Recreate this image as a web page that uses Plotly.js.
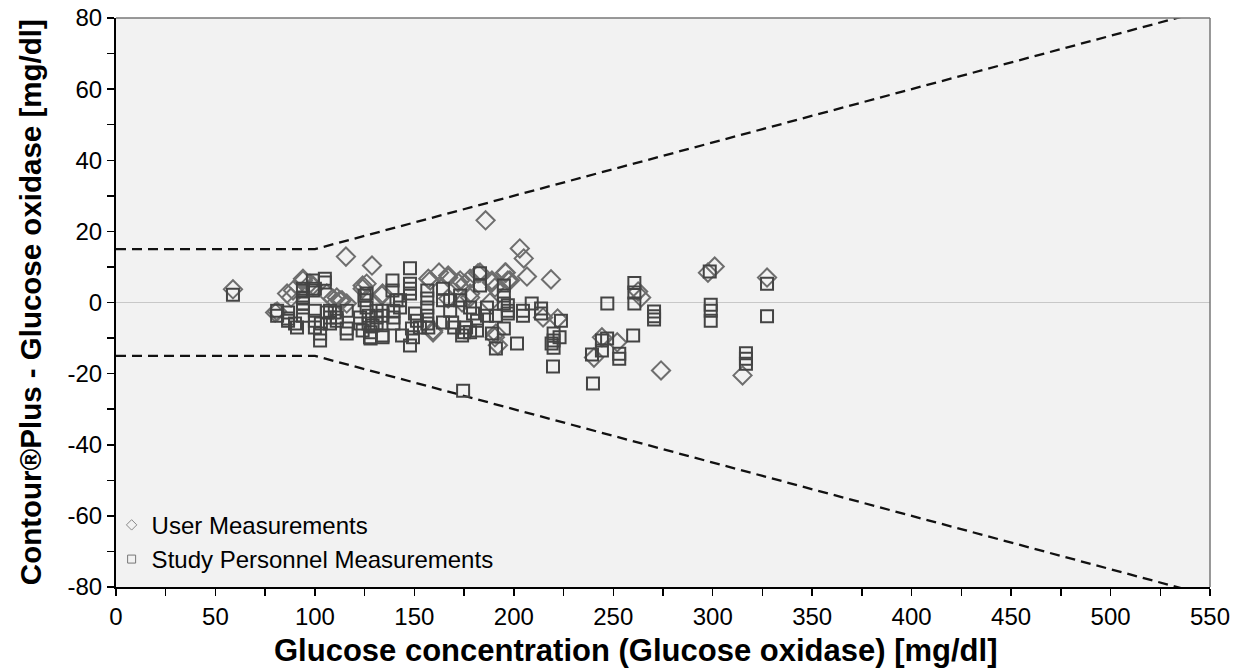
<!DOCTYPE html>
<html>
<head>
<meta charset="utf-8">
<script src="https://cdn.plot.ly/plotly-3.0.1.min.js"></script>
<style>html,body{margin:0;padding:0;background:#fff;}#chart{width:1240px;height:669px;}</style>
</head>
<body>
<div id="chart"></div>
<script>
// User Measurements (diamonds)
const userX = [58.8,80,81,86,88,89,94,94,97.5,99,106,109,111,112.6,113.6,116,115.6,128.7,124,124,126,133.7,134,
  157,158,159.4,159.4,162.4,167,167,167,172,173,175.5,174,178,178,178,182,183,188,189,189,190.5,190.5,191,192,195.6,196,197,198,
  185.8,203,205,206.6,218.7,214.7,222,240.3,244.3,252,262.5,264,274,297.6,301,315,327.3];
const userY = [3.7,-2.8,-2.5,2.5,1.4,3.4,6.7,6.2,5.3,4.8,2.5,1.1,1.4,0.6,0.6,-0.3,12.9,10.4,4.8,3.9,5.3,2,2.5,
  6.7,6.2,-8.4,-7.9,8.4,7.0,7.6,1.1,5.6,6.2,5.3,0,6.7,1.4,2.5,8.2,8.4,0,6.2,5.6,4.2,-9.8,-8.7,-12,8.4,8.4,6.2,6.2,
  23.1,15.2,12.4,7.3,6.5,-4.2,-4.5,-15.5,-9.8,-11.2,3.1,1.4,-19.1,8.4,10.1,-20.5,7.0];

// Study Personnel Measurements (squares)
const staffX = [58.8,
  81,81,86.5,86.5,86.5,90,91,94,94,94,94,94,94,94,
  99,99,100,100,100,100,102.6,102.6,103,105,105,106,107.6,107.6,107.6,110,111,111,116,116,116,
  122.7,122.7,124,125,125,126,126,127,127,127.7,128,128,129,131,131,131,134,134,134,134,
  139,139,139.5,139.5,139.5,141,142.8,142.8,143.8,147.8,147.8,147.8,147.8,147.8,148.8,149.3,150.3,151.3,152.8,
  156.5,156.5,156.5,156.5,156.5,157,164.4,164.4,164.4,168,168,169,170,173,173,174,175,178,176,174.5,
  183,183,178,179.5,181.5,181.5,186.5,186.5,189,191,191,195,195,195,197,195,197,197,201.6,
  204.6,204.6,209,213.7,213.7,223.7,220,220,219,223,220,219.7,
  239.3,244.3,244.3,246.9,239.8,247,
  260.6,260.6,260.6,270.5,270.5,270.5,260,253,253,
  298.5,299,299,299,327.3,327.3,316.7,316.7,316.7];
const staffY = [2.2,
  -2.3,-3.7,-2.8,-4.5,-5.1,-5.9,-7,3.9,3.4,1.4,1.1,-0.3,-1.4,-3.7,
  6.2,3.4,3.9,-2.3,-5.1,-7,-10.7,-8.7,-5.9,6.7,5.6,-2.8,-2.3,-4.2,-5.9,-2.8,-4.2,-5.1,-2.3,-7.3,-8.7,
  -4.2,-5.9,-7.9,2,0.6,2.5,-1.4,-3.7,-5.9,-9.8,-8.4,-10.1,-6.5,-2.3,-4.2,-5.9,-9.3,-2.3,-3.7,-9.8,
  6.2,3.4,-2.3,-4.2,-5.9,0.6,0.6,-1.4,-9.3,9.6,5.3,3.9,2.5,-12.1,-7.3,-9.8,-3.1,-5.1,-7,
  3.4,1.1,-1.4,-3.7,-5.9,-7,3.9,0.6,-5.6,0.6,-2.3,-5.6,-7,2,0.6,-9.3,-8.4,-8.4,-7,-24.8,
  8.2,4.8,-1.4,-3.1,-5.1,-7.9,-1.4,-3.7,-8.7,-12.9,-3.7,4.8,2,-0.3,-2.3,-7.3,-0.8,-3.1,-11.5,
  -2.3,-3.7,-0.3,-1.7,-3.1,-5.1,-8.7,-10.7,-11.5,-9.8,-12.7,-18,
  -14.6,-10.7,-13.5,-10.1,-22.8,-0.3,
  5.5,2.8,-0.3,-2.5,-3.9,-4.8,-9.3,-14.4,-15.8,
  8.7,-0.6,-2.3,-5.1,5.3,-3.9,-14.3,-15.8,-17.2];

// Acceptance limits: ±15 mg/dl below 100 mg/dl, ±15 % above
const limitX = [0, 100, 550];
const upperY = limitX.map(x => x < 100 ? 15 : 0.15 * x);
const lowerY = upperY.map(v => -v);

// Tick labels
const xTickVals = [0,50,100,150,200,250,300,350,400,450,500,550];
const xTickText = ['0','50','100','150','200','250','300','350','400','450','500','550'];
const yTickVals = [-80,-60,-40,-20,0,20,40,60,80];
const yTickText = ['-80','-60','-40','-20','0','20','40','60','80'];

const legendNames = ['User Measurements', 'Study Personnel Measurements'];
const xTitle = 'Glucose concentration (Glucose oxidase) [mg/dl]';
const yTitle = 'Contour®Plus - Glucose oxidase [mg/dl]';

const dashStyle = {color: '#111', width: 2.3, dash: '10px,6px'};
const traces = [
  {x: limitX, y: upperY, mode: 'lines', line: dashStyle, showlegend: false, hoverinfo: 'skip'},
  {x: limitX, y: lowerY, mode: 'lines', line: dashStyle, showlegend: false, hoverinfo: 'skip'},
  {x: userX, y: userY, mode: 'markers', showlegend: false,
   marker: {symbol: 'diamond-open', size: 14, color: '#6e6e6e', line: {width: 2, color: '#6e6e6e'}}},
  {x: staffX, y: staffY, mode: 'markers', showlegend: false,
   marker: {symbol: 'square-open', size: 12, color: '#444', line: {width: 2, color: '#444'}}},
  {x: [null], y: [null], mode: 'markers', name: legendNames[0],
   marker: {symbol: 'diamond-open', size: 8, color: '#888', line: {width: 1, color: '#888'}}},
  {x: [null], y: [null], mode: 'markers', name: legendNames[1],
   marker: {symbol: 'square-open', size: 8, color: '#777', line: {width: 1, color: '#777'}}}
];

const layout = {
  width: 1240, height: 669,
  margin: {l: 116, r: 30, t: 18, b: 82},
  paper_bgcolor: '#ffffff',
  plot_bgcolor: '#f2f2f2',
  font: {family: 'Liberation Sans, Arial, sans-serif', color: '#000', size: 24},
  showlegend: true,
  legend: {x: -0.004, y: 0.148, xanchor: 'left', yanchor: 'top', bgcolor: 'rgba(0,0,0,0)',
           font: {size: 24, color: '#000'}, itemwidth: 30, tracegroupgap: 0},
  xaxis: {
    range: [0, 550], tickmode: 'array', tickvals: xTickVals, ticktext: xTickText,
    ticks: 'outside', ticklen: 7, tickwidth: 1.5, tickcolor: '#000',
    showgrid: false, zeroline: false, showline: true, linecolor: '#000', linewidth: 2,
    minor: {tickmode: 'linear', tick0: 0, dtick: 25, ticks: 'outside', ticklen: 7, tickwidth: 1.5, tickcolor: '#000', showgrid: false},
    tickfont: {size: 24}
  },
  yaxis: {
    range: [-80, 80], tickmode: 'array', tickvals: yTickVals, ticktext: yTickText,
    ticks: 'outside', ticklen: 7, tickwidth: 1.5, tickcolor: '#000',
    showgrid: false, zeroline: true, zerolinecolor: '#c8c8c8', zerolinewidth: 1,
    showline: true, linecolor: '#000', linewidth: 2,
    minor: {tickmode: 'linear', tick0: 0, dtick: 10, ticks: 'outside', ticklen: 7, tickwidth: 1.5, tickcolor: '#000', showgrid: false},
    tickfont: {size: 24}
  },
  annotations: [
    {text: '<b>' + xTitle + '</b>', xref: 'paper', yref: 'paper', x: 0.475, y: -0.111,
     xanchor: 'center', yanchor: 'middle', showarrow: false, font: {size: 31, color: '#000'}},
    {text: '<b>' + yTitle + '</b>', xref: 'paper', yref: 'paper', x: -0.078, y: 0.5, textangle: -90,
     xanchor: 'center', yanchor: 'middle', showarrow: false, font: {size: 29.5, color: '#000'}}
  ],
  shapes: [
    {type: 'line', xref: 'paper', yref: 'paper', x0: 0, x1: 1, y0: 1, y1: 1, line: {color: '#777', width: 1.5}},
    {type: 'line', xref: 'paper', yref: 'paper', x0: 1, x1: 1, y0: 0, y1: 1, line: {color: '#777', width: 1.5}}
  ]
};

Plotly.newPlot('chart', traces, layout, {displayModeBar: false, staticPlot: true});
</script>
</body>
</html>
